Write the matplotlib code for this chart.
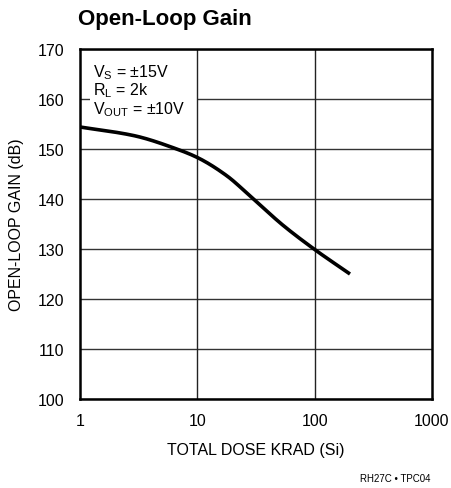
import matplotlib
matplotlib.use("Agg")
import matplotlib.pyplot as plt
from matplotlib.patches import Rectangle
import numpy as np

plt.rcParams['font.family'] = ['Liberation Sans', 'DejaVu Sans']
plt.rcParams['mathtext.fontset'] = 'custom'
plt.rcParams['mathtext.rm'] = 'Liberation Sans'

dose = [1, 2.85, 6.67, 10, 17.7, 30, 54, 100, 200]
gain = [154.4, 152.7, 150.0, 148.3, 144.7, 140.0, 134.7, 129.9, 125.0]

xticks = [1, 10, 100, 1000]
xticklabels = ['1', '10', '100', '1000']
yticks = [100, 110, 120, 130, 140, 150, 160, 170]

fig = plt.figure(figsize=(4.52, 4.89), dpi=100)
ax = fig.add_axes([80/452, 1-400/489, 352/452, 350/489])

def pchip(x, y, xn):
    x = np.asarray(x); y = np.asarray(y)
    h = np.diff(x); d = np.diff(y)/h
    m = np.zeros_like(y)
    for k in range(1, len(y)-1):
        if d[k-1]*d[k] > 0:
            w1 = 2*h[k]+h[k-1]; w2 = h[k]+2*h[k-1]
            m[k] = (w1+w2)/(w1/d[k-1]+w2/d[k])
    m[0] = d[0]; m[-1] = d[-1]
    out = np.empty_like(xn)
    for i, xv in enumerate(xn):
        k = min(np.searchsorted(x, xv, side='right')-1, len(x)-2)
        t = (xv-x[k])/h[k]
        h00 = 2*t**3-3*t**2+1; h10 = t**3-2*t**2+t
        h01 = -2*t**3+3*t**2; h11 = t**3-t**2
        out[i] = h00*y[k]+h10*h[k]*m[k]+h01*y[k+1]+h11*h[k]*m[k+1]
    return out

lx = np.log10(dose)
xs = np.linspace(lx[0], lx[-1], 200)
ys = pchip(lx, gain, xs)
ax.plot(10**xs, ys, color='black', lw=2.6, zorder=4, solid_capstyle='butt')

ax.set_xscale('log')
ax.set_xlim(1, 1000)
ax.set_ylim(100, 170)
ax.set_xticks(xticks)
ax.set_xticklabels(xticklabels)
ax.set_yticks(yticks)
ax.minorticks_off()
ax.tick_params(axis='x', length=0, labelsize=11.5, pad=10, colors='black')
ax.tick_params(axis='y', length=0, labelsize=11.5, pad=11, colors='black')
ax.grid(axis='y', color='#333333', lw=1.0, zorder=1)
ax.set_axisbelow(True)
for xv in xticks[1:-1]:
    ax.axvline(xv, color='#222222', lw=1.0, zorder=3)
for s in ax.spines.values():
    s.set_linewidth(1.8)
    s.set_zorder(5)

# white background behind the conditions text
ax.add_patch(Rectangle((0.028, 0.80), 0.305, 0.18, transform=ax.transAxes,
                       facecolor='white', edgecolor='none', zorder=2))
ax.text(0.036, 0.962,
        "V$_\\mathregular{S}$ = ±15V\nR$_\\mathregular{L}$ = 2k\nV$_\\mathregular{OUT}$ = ±10V",
        transform=ax.transAxes, ha='left', va='top', fontsize=11.5, linespacing=0.98,
        zorder=2.5)

ax.set_xlabel('TOTAL DOSE KRAD (Si)', fontsize=11.5, labelpad=10)
ax.set_ylabel('OPEN-LOOP GAIN (dB)', fontsize=11.5, labelpad=10)

fig.text(78/452, 1-20/489, 'Open-Loop Gain', fontsize=16, fontweight='bold',
         ha='left', va='center')
fig.text(431/452, 1-479/489, 'RH27C • TPC04', fontsize=7, ha='right', va='center')

fig.savefig('out.png', dpi=100)
